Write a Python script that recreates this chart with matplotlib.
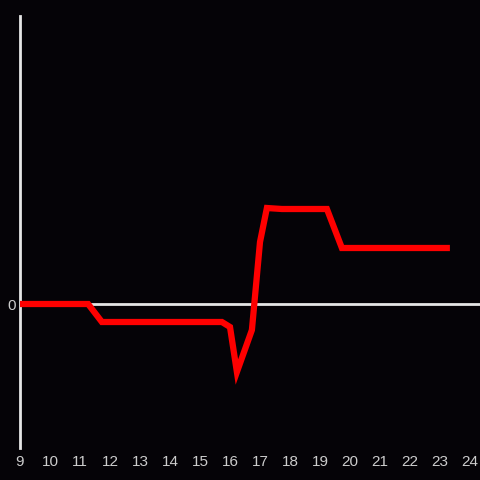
import matplotlib
matplotlib.use("Agg")
import matplotlib.pyplot as plt

plt.rcParams["font.family"] = ["Liberation Sans", "DejaVu Sans"]

# red series (y in arbitrary units, 0 = baseline)
hours = [9, 11.27, 11.73, 15.73, 16.0, 16.23, 16.73, 17.0, 17.23, 17.73, 19.23, 19.73, 23.33]
values = [0, 0, -18, -18, -23, -68, -26, 62, 96, 95, 95, 56, 56]
xticks = list(range(9, 25))

bg = "#050307"
fig = plt.figure(figsize=(4.8, 4.8), dpi=100, facecolor=bg)
ax = fig.add_axes([20 / 480, 32 / 480, 460 / 480, 432 / 480], facecolor=bg)

ax.set_xlim(9, 9 + 460 / 30)
ax.set_ylim(-144, 288)

ax.axhline(0, color="#e6e6e6", lw=2, zorder=1)
ax.plot(hours, values, color="#ff0000", lw=4.5, solid_joinstyle="miter",
        solid_capstyle="butt", zorder=3)

for s in ["top", "right", "bottom"]:
    ax.spines[s].set_visible(False)
ax.spines["left"].set_color("#e6e6e6")
ax.spines["left"].set_linewidth(2)

ax.set_xticks(xticks)
ax.set_xticklabels([str(t) for t in xticks])
ax.set_yticks([0])
ax.set_yticklabels(["0"])
ax.tick_params(axis="both", length=0, colors="#cccccc", labelsize=11)
ax.tick_params(axis="x", pad=5)
ax.tick_params(axis="y", pad=3)

plt.savefig("out.png", dpi=100, facecolor=bg)
